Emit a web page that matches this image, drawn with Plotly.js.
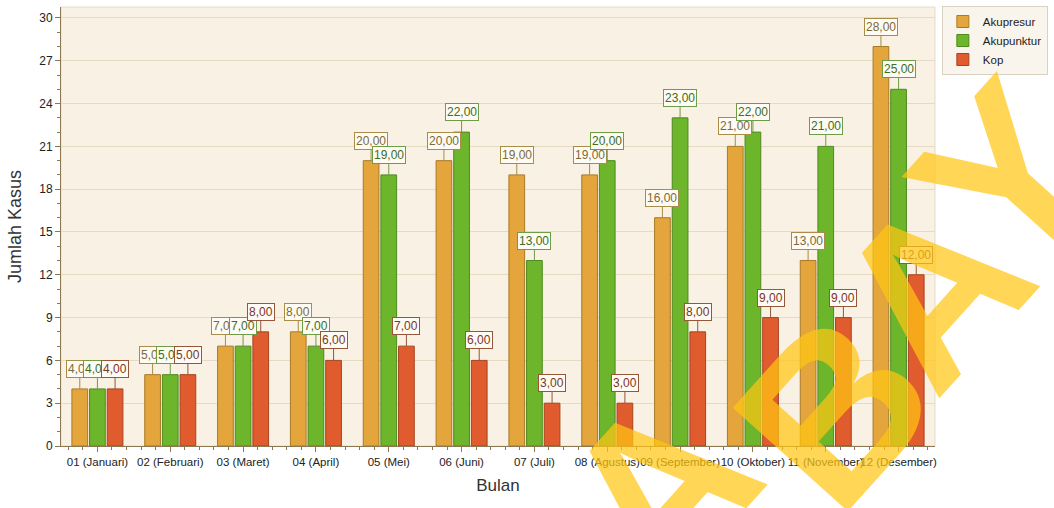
<!DOCTYPE html>
<html>
<head>
<meta charset="utf-8">
<script src="https://cdn.plot.ly/plotly-3.0.1.min.js"></script>
<style>
html,body{margin:0;padding:0;background:#fff;}
#chart{width:1054px;height:508px;}
</style>
</head>
<body>
<div id="chart"></div>
<script>
const months = ['01 (Januari)', '02 (Februari)', '03 (Maret)', '04 (April)', '05 (Mei)', '06 (Juni)',
  '07 (Juli)', '08 (Agustus)', '09 (September)', '10 (Oktober)', '11 (November)', '12 (Desember)'];
const seriesNames = ['Akupresur', 'Akupunktur', 'Kop'];
const akupresur = [4, 5, 7, 8, 20, 20, 19, 19, 16, 21, 13, 28];
const akupunktur = [4, 5, 7, 7, 19, 22, 13, 20, 23, 22, 21, 25];
const kop = [4, 5, 8, 6, 7, 6, 3, 3, 8, 9, 9, 12];
const yTicks = [0, 3, 6, 9, 12, 15, 18, 21, 24, 27, 30];
const watermarkLetters = ['A', 'B', 'A', 'Y'];

const fills = ['#e3a53c', '#6db52b', '#e05b2d'];
const outlines = ['#a97a26', '#4e8a1f', '#a6441f'];
const labelText = ['#7d6a36', '#3f6d22', '#7b3524'];
const labelBorder = ['#a88c4a', '#6f9c46', '#96563a'];

const FONT = "'Liberation Sans', Arial, sans-serif";
const bargap = 0.273;
const slot = (1 - bargap) / 3;
const idx = months.map((m, i) => i);
const allSeries = [akupresur, akupunktur, kop];

const traces = allSeries.map((vals, s) => ({
  type: 'bar',
  name: seriesNames[s],
  x: idx,
  y: vals,
  marker: { color: fills[s], line: { color: outlines[s], width: 1 } },
  hoverinfo: 'x+y+name'
}));

const annotations = [];
months.forEach((m, i) => {
  allSeries.forEach((vals, s) => {
    annotations.push({
      xref: 'x', yref: 'y',
      x: i + (s - 1) * slot,
      y: vals[i],
      text: vals[i].toFixed(2).replace('.', ','),
      showarrow: true, arrowhead: 0, arrowwidth: 1, arrowcolor: labelBorder[s],
      ax: 0, ay: -20,
      bgcolor: '#fdfbf4', bordercolor: labelBorder[s], borderwidth: 1, borderpad: 1,
      font: { family: FONT, size: 12, color: labelText[s] }
    });
  });
});

// plot-area pixel helpers for the watermark
const L = 61, R = 953, T = 6, B = 446;
const px = v => (v - L) / (R - L);
const py = v => (B - v) / (B - T);

// watermark letter anchor points (page pixels)
const wmX = [672, 850, 950, 1025];
const wmY = [488, 410, 290, 175];
const WM_SIZE = 225, WM_ANGLE = 48;
watermarkLetters.forEach((ch, k) => {
  annotations.push({
    xref: 'paper', yref: 'paper',
    x: px(wmX[k]), y: py(wmY[k]),
    xanchor: 'center', yanchor: 'middle',
    text: ch, showarrow: false, textangle: -WM_ANGLE,
    font: { family: "'Liberation Sans', Arial, sans-serif", size: WM_SIZE, color: 'rgba(255,198,20,0.72)', weight: 'bold' }
  });
});

const layout = {
  width: 1054, height: 508,
  margin: { l: L, r: 1054 - R, t: T, b: 508 - B },
  paper_bgcolor: '#ffffff',
  plot_bgcolor: '#f9f1e3',
  barmode: 'group',
  bargap: bargap,
  bargroupgap: 0.11,
  font: { family: FONT, size: 12, color: '#333333' },
  xaxis: {
    range: [-0.5, 11.5],
    tickvals: idx, ticktext: months, tickangle: 0,
    ticks: 'outside', ticklen: 5, tickcolor: '#8c7853',
    minor: { dtick: 0.2, tick0: 0, ticks: 'outside', ticklen: 3, tickcolor: '#8c7853', showgrid: false },
    showline: true, linecolor: '#8c7853', linewidth: 1,
    showgrid: false, zeroline: false,
    tickfont: { family: FONT, size: 11.5, color: '#222' },
    title: { text: 'Bulan', font: { family: FONT, size: 17, color: '#333' }, standoff: 12 }
  },
  yaxis: {
    range: [0, 30.77],
    tickvals: yTicks,
    ticks: 'outside', ticklen: 5, tickcolor: '#8c7853',
    minor: { dtick: 1, tick0: 0, ticks: 'outside', ticklen: 3, tickcolor: '#8c7853', showgrid: false },
    showline: true, linecolor: '#8c7853', linewidth: 1,
    showgrid: true, gridcolor: '#e6dac3', gridwidth: 1,
    zeroline: false,
    tickfont: { family: FONT, size: 12, color: '#222' },
    title: { text: 'Jumlah Kasus', font: { family: FONT, size: 18, color: '#333' }, standoff: 12 }
  },
  legend: {
    x: px(960), y: py(5), xanchor: 'left', yanchor: 'top',
    bgcolor: '#faf5ec', bordercolor: '#d9d1c2', borderwidth: 1,
    font: { family: FONT, size: 11.5, color: '#222' },
    tracegroupgap: 0, itemwidth: 30
  },
  shapes: [{
    type: 'rect', xref: 'paper', yref: 'paper', x0: 0, x1: 1, y0: 0, y1: 1,
    line: { color: '#e4dbca', width: 1 }, layer: 'below'
  }],
  annotations: annotations
};

Plotly.newPlot('chart', traces, layout, { displayModeBar: false, staticPlot: true });
</script>
</body>
</html>
